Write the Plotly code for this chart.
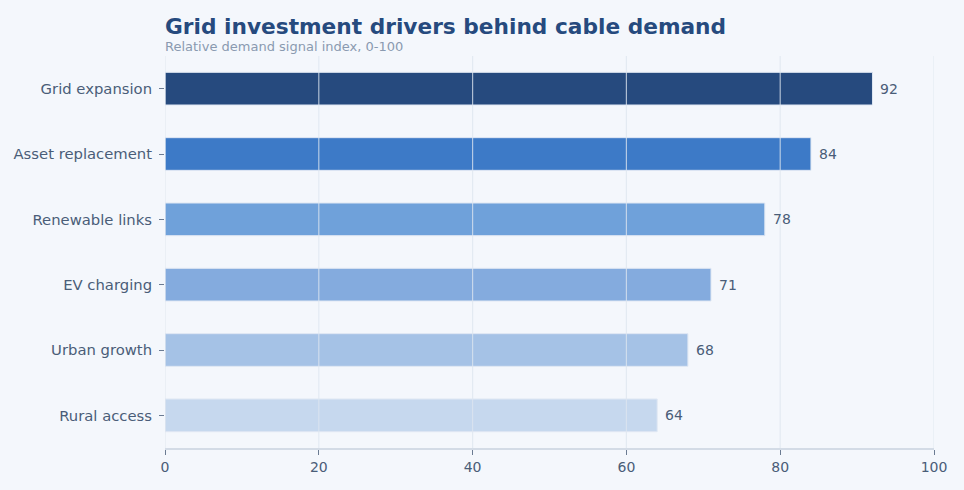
import plotly.graph_objects as go

categories = ["Grid expansion", "Asset replacement", "Renewable links", "EV charging", "Urban growth", "Rural access"]
values = [92, 84, 78, 71, 68, 64]
colors = ["#264a7e", "#3d7ac7", "#6fa1da", "#84abde", "#a5c2e6", "#c6d8ee"]
x_ticks = [0, 20, 40, 60, 80, 100]

fig = go.Figure(go.Bar(
    x=values, y=categories, orientation="h",
    marker=dict(color=colors, line=dict(color="#dfe7f3", width=1)),
    width=0.5,
    hoverinfo="skip",
))

annotations = [
    dict(text="<b>Grid investment drivers behind cable demand</b>", x=0, y=1, xref="paper", yref="paper",
         xanchor="left", yanchor="bottom", yshift=15, xshift=-2, showarrow=False,
         font=dict(size=21.7, color="#264a7e")),
    dict(text="Relative demand signal index, 0-100", x=0, y=1, xref="paper", yref="paper",
         xanchor="left", yanchor="bottom", yshift=0, xshift=-2, showarrow=False,
         font=dict(size=13, color="#8a9ab0")),
]
for c, v in zip(categories, values):
    annotations.append(dict(text=str(v), x=v, y=c, xref="x", yref="y", xanchor="left", yanchor="middle",
                            xshift=6, showarrow=False, font=dict(size=14, color="#4a5d78")))

shapes = [dict(type="line", xref="x", yref="paper", x0=t, x1=t, y0=0, y1=1, layer="above",
               line=dict(color="rgba(222,229,239,0.75)", width=1.2)) for t in x_ticks]

fig.update_layout(
    width=964, height=490,
    paper_bgcolor="#f4f7fc", plot_bgcolor="#f4f7fc",
    margin=dict(l=165, r=30, t=56, b=42),
    font=dict(family="DejaVu Sans", color="#4a5d78"),
    showlegend=False,
    annotations=annotations,
    shapes=shapes,
)
fig.update_xaxes(range=[0, 100], tickvals=x_ticks, showgrid=False,
                 zeroline=False, showline=True, linecolor="#d3dbe6", linewidth=1.5,
                 ticks="outside", ticklen=5, tickcolor="#6b7b92", tickfont=dict(size=14, color="#4a5d78"))
fig.update_yaxes(categoryorder="array", categoryarray=categories[::-1], showgrid=False,
                 ticks="outside", ticklen=5, tickcolor="#6b7b92", ticklabelstandoff=4,
                 tickfont=dict(size=14.8, color="#4a5d78"))

fig.write_html("out.html", config={"displayModeBar": False},
               post_script="document.body.style.margin='0px';")
